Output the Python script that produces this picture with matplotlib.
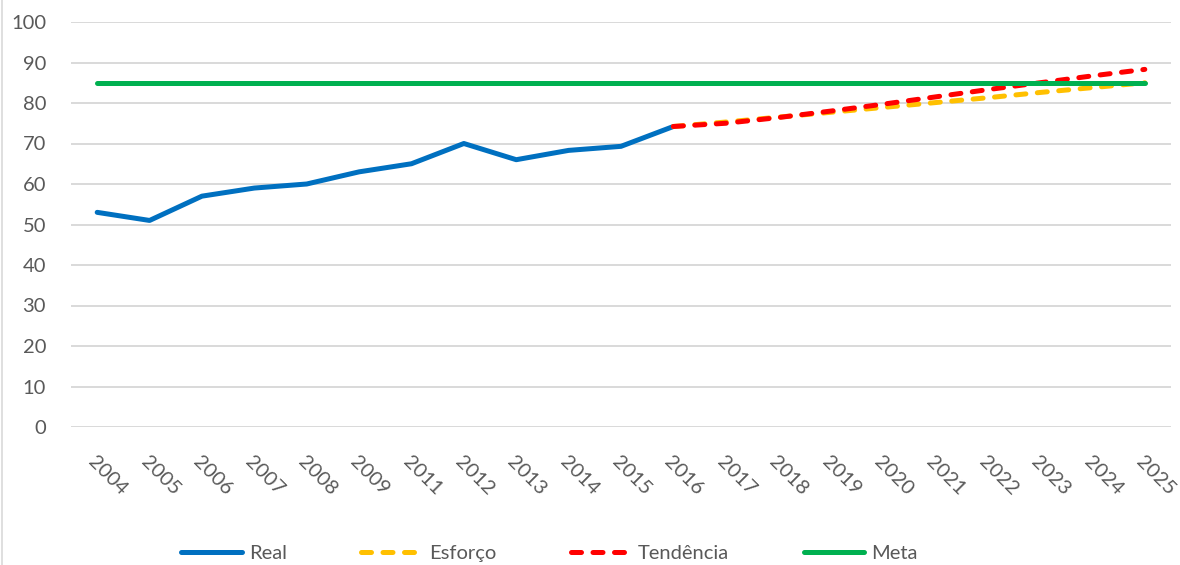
import matplotlib
matplotlib.use("Agg")
import matplotlib.pyplot as plt
from matplotlib.lines import Line2D

# categories (note: 2010 missing in the source)
years = ["2004", "2005", "2006", "2007", "2008", "2009", "2011", "2012", "2013", "2014",
         "2015", "2016", "2017", "2018", "2019", "2020", "2021", "2022", "2023", "2024", "2025"]

real = [53, 51, 57, 59, 60, 63, 65, 70, 66, 68.3, 69.3, 74.2]
esforco = [74.2, 75.3, 76.5, 77.7, 78.9, 80.1, 81.3, 82.6, 83.8, 85.0]
tendencia = [74.2, 75.0, 76.4, 78.0, 79.7, 81.5, 83.3, 85.0, 86.7, 88.3]
meta = [85] * 21

TEXT = "#595959"
GRID = "#D9D9D9"
FS = 14.5

plt.rcParams['font.family'] = ['Lato', 'DejaVu Sans']

fig = plt.figure(figsize=(11.8, 5.65), dpi=100)
ax = fig.add_axes([71 / 1180, 1 - 427 / 565, 1100 / 1180, 405 / 565])

x_all = list(range(len(years)))
x_real = x_all[:len(real)]
x_proj = x_all[len(real) - 1:]

lw = 3.6
ax.plot(x_real, real, color="#0070C0", lw=lw, solid_capstyle="round", solid_joinstyle="round", label="Real")
ax.plot(x_proj, esforco, color="#FFC000", lw=lw, dashes=(2.0, 2.3), dash_capstyle="round", label="Esforço")
ax.plot(x_proj, tendencia, color="#FF0000", lw=lw, dashes=(2.0, 2.3), dash_capstyle="round", label="Tendência")
ax.plot(x_all, meta, color="#00B050", lw=lw, solid_capstyle="round", label="Meta")

ax.set_xlim(-0.5, len(years) - 0.5)
ax.set_ylim(0, 100)
ax.set_yticks(range(0, 101, 10))
ax.set_xticks(x_all)
ax.set_xticklabels(years, rotation=-45, ha="left", va="top", rotation_mode="anchor")

ax.grid(axis="y", color=GRID, lw=1.4)
ax.set_axisbelow(True)
for s in ax.spines.values():
    s.set_visible(False)
ax.tick_params(axis="both", length=0, colors=TEXT, labelsize=FS)
ax.tick_params(axis="y", pad=18)
ax.tick_params(axis="x", pad=19)

leg = ax.legend(loc="center", bbox_to_anchor=(0.435, -126 / 405), ncol=4, frameon=False,
                fontsize=FS, handlelength=3.0, handletextpad=0.35, columnspacing=3.7)
for t in leg.get_texts():
    t.set_color(TEXT)

# chart border (left edge visible)
fig.add_artist(Line2D([0.002, 0.002], [0, 1], transform=fig.transFigure, color=GRID, lw=1.2))

fig.savefig("out.png", dpi=100)
